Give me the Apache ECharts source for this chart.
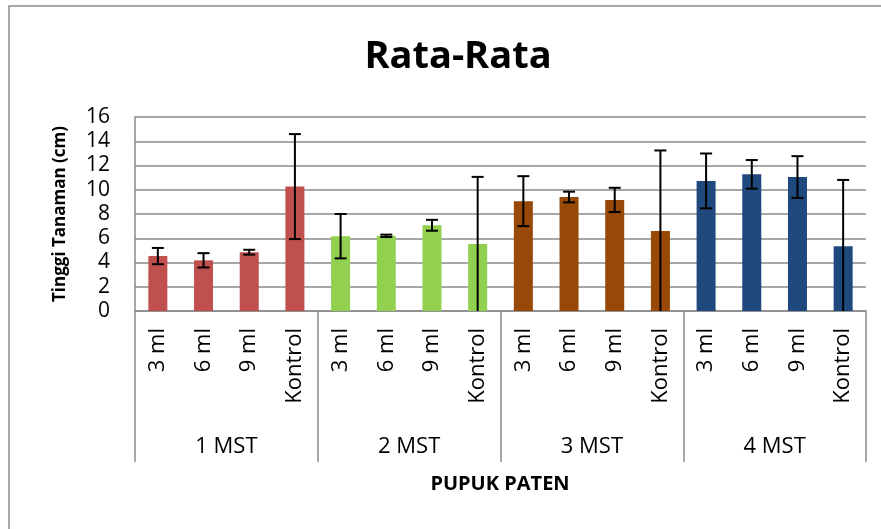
<!DOCTYPE html>
<html>
<head>
<meta charset="utf-8">
<title>Rata-Rata</title>
<style>
  html, body { margin: 0; padding: 0; background: #fff; }
  #chart { width: 881px; height: 529px; }
</style>
</head>
<body>
<div id="chart"></div>
<script src="https://cdn.jsdelivr.net/npm/echarts@6/dist/echarts.min.js"></script>
<script>
// data
var doses = ['3 ml', '6 ml', '9 ml', 'Kontrol'];
var weeks = ['1 MST', '2 MST', '3 MST', '4 MST'];
var weekColors = ['#C0504D', '#92D050', '#984807', '#1F497D'];
var means = [4.53, 4.18, 4.85, 10.26, 6.17, 6.2, 7.07, 5.52, 9.06, 9.4, 9.16, 6.6, 10.73, 11.27, 11.05, 5.35];
var errs = [0.67, 0.59, 0.2, 4.33, 1.83, 0.1, 0.45, 5.54, 2.06, 0.44, 1.0, 6.64, 2.26, 1.18, 1.72, 5.46];

var FONT = '"Open Sans", "Noto Sans", sans-serif';
var GRID = '#8a8a8a';

var cats = [];
var barData = [];
var errData = [];
weeks.forEach(function (w, wi) {
    doses.forEach(function (d, di) {
        var i = wi * doses.length + di;
        cats.push(d);
        barData.push({ value: means[i], itemStyle: { color: weekColors[wi] } });
        errData.push([i, means[i], errs[i]]);
    });
});

var chart = echarts.init(document.getElementById('chart'));

chart.setOption({
    animation: false,
    backgroundColor: '#fff',
    title: {
        text: 'Rata-Rata',
        left: 453,
        top: 33,
        textAlign: 'center',
        textStyle: { fontFamily: FONT, fontWeight: 'bold', fontSize: 38, color: '#000' }
    },
    graphic: [{
        type: 'rect',
        shape: { x: 9, y: 6, width: 900, height: 600 },
        style: { fill: 'none', stroke: '#8c8c8c', lineWidth: 1.5 },
        silent: true
    }, {
        type: 'text',
        x: 500,
        y: 484,
        style: {
            text: 'PUPUK PATEN', fontFamily: FONT, fontWeight: 'bold', fontSize: 20, fill: '#000',
            align: 'center', verticalAlign: 'middle'
        }
    }],
    grid: { left: 135, right: 15, top: 117, bottom: 218 },
    xAxis: [{
        type: 'category',
        data: cats,
        axisLine: { lineStyle: { color: GRID, width: 1.5 } },
        axisTick: { show: false },
        axisLabel: { rotate: 90, margin: 17, interval: 0, fontFamily: FONT, fontSize: 22, color: '#000' }
    }, {
        type: 'category',
        data: weeks,
        position: 'bottom',
        axisLine: { show: false },
        axisTick: { show: true, interval: 0, length: 151, lineStyle: { color: GRID, width: 1.5 } },
        axisLabel: { margin: 125, fontFamily: FONT, fontSize: 22, color: '#000' },
        splitLine: { show: false }
    }],
    yAxis: {
        type: 'value',
        min: 0,
        max: 16,
        interval: 2,
        axisLine: { show: true, lineStyle: { color: GRID, width: 1.5 } },
        axisTick: { show: false },
        axisLabel: { margin: 25, fontFamily: FONT, fontSize: 21, color: '#000' },
        splitLine: { lineStyle: { color: GRID, width: 1.5 } },
        name: 'Tinggi Tanaman (cm)',
        nameLocation: 'middle',
        nameGap: 66,
        nameTextStyle: { fontFamily: FONT, fontWeight: 'bold', fontSize: 17, color: '#000' }
    },
    series: [{
        type: 'bar',
        xAxisIndex: 0,
        barWidth: 19,
        data: barData
    }, {
        type: 'custom',
        xAxisIndex: 0,
        data: errData,
        z: 5,
        renderItem: function (params, api) {
            var i = api.value(0), m = api.value(1), e = api.value(2);
            var hi = api.coord([i, m + e]);
            var lo = api.coord([i, Math.max(0, m - e)]);
            var w = 6;
            var st = { stroke: '#000', lineWidth: 2 };
            var kids = [
                { type: 'line', shape: { x1: hi[0], y1: hi[1], x2: lo[0], y2: lo[1] }, style: st },
                { type: 'line', shape: { x1: hi[0] - w, y1: hi[1], x2: hi[0] + w, y2: hi[1] }, style: st }
            ];
            if (m - e > 0) {
                kids.push({ type: 'line', shape: { x1: lo[0] - w, y1: lo[1], x2: lo[0] + w, y2: lo[1] }, style: st });
            }
            return { type: 'group', children: kids };
        }
    }]
});
</script>
</body>
</html>
